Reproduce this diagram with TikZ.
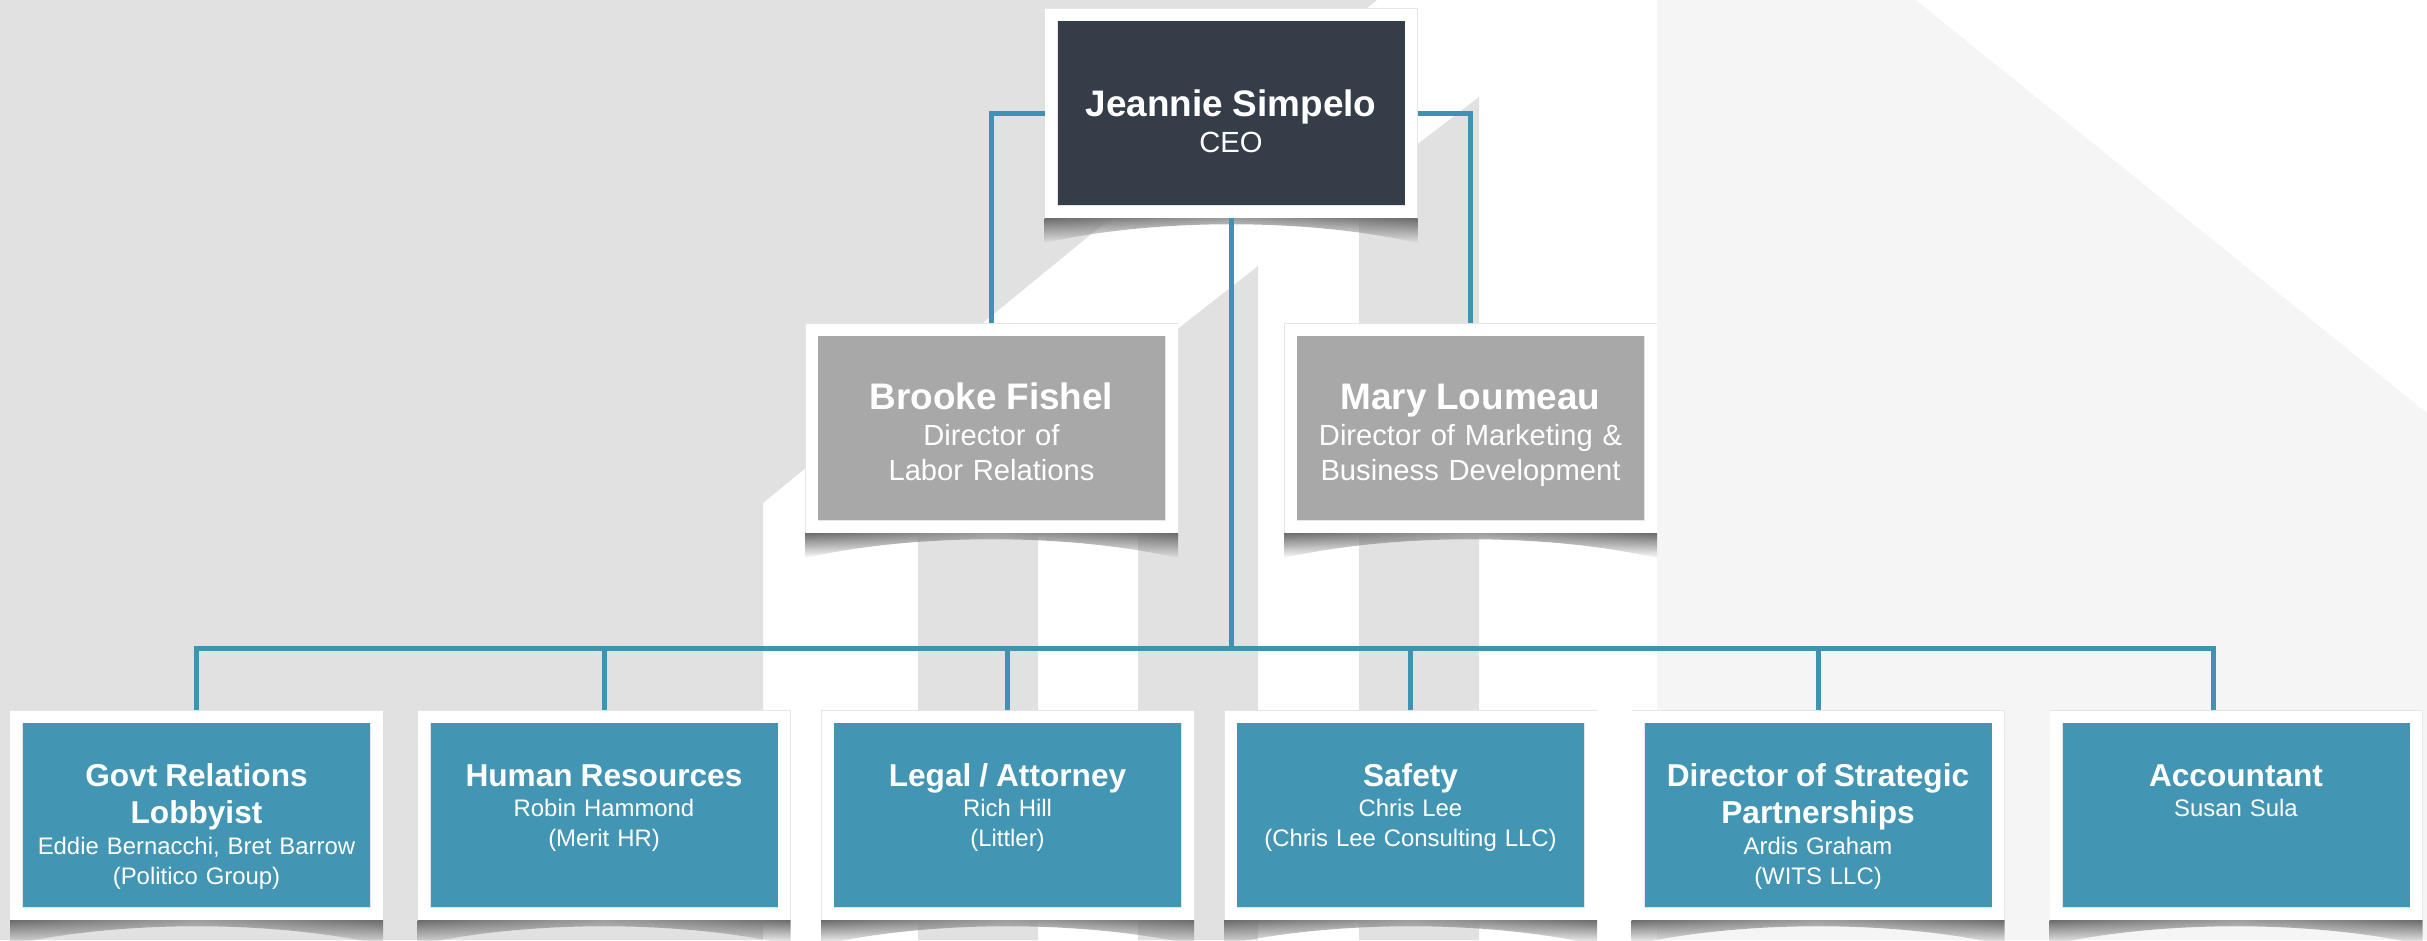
\documentclass[tikz,border=0pt]{standalone}
\usepackage{fontspec}
\setmainfont{Liberation Sans}
\usepackage{tikz}
\usetikzlibrary{positioning,fadings}

\definecolor{CeoSlate}{HTML}{343D48}
\definecolor{LeadGray}{HTML}{A8A8A8}
\definecolor{TeamTeal}{HTML}{4395B4}
\definecolor{LinkTeal}{HTML}{3F92B1}
\definecolor{BackdropGray}{HTML}{E1E1E1}
\definecolor{BackdropLight}{HTML}{F5F5F5}

% first (bold) line of a card
\newcommand{\nameline}[1]{{\bfseries\fontsize{10.5}{12}\selectfont #1\par}\vspace{0.8pt}}
\newcommand{\teamline}[1]{{\bfseries\fontsize{9}{10.8}\selectfont #1\par}\vspace{0.3pt}}

\begin{document}
\begin{tikzpicture}
  \tikzset{CardBase/.style = {shape = rectangle, draw = black!10, double = white, double distance = 0.12cm, line width = 0.005cm, inner sep = 0.065cm, outer sep = 0.065cm, text = white, text width = 3.47cm, align = center}};
  \tikzset{CeoCard/.style = {CardBase, fill = CeoSlate, text height = 0.95cm, text depth = 0.89cm, font = {\fontsize{8.3}{9.7}\selectfont}}};
  \tikzset{LeadCard/.style = {CardBase, fill = LeadGray, text height = 0.73cm, text depth = 1.11cm, font = {\fontsize{8.3}{9.7}\selectfont}}};
  \tikzset{TeamCard/.style = {CardBase, fill = TeamTeal, text height = 0.63cm, text depth = 1.21cm, font = {\fontsize{6.8}{8.5}\selectfont}}};
  \tikzset{LinkStyle/.style = {LinkTeal, line width = 0.05cm}};
  \tikzset{CardShadow/.style = {left color = black!58, right color = black!58, middle color = black!38, path fading = south}};

  \useasboundingbox (0,0) rectangle (24.27,-9.40);
  \clip (0,0) rectangle (24.27,-9.40);

  % backdrop: grey wedge, three rising bars, pale panel on the right
  \fill[BackdropLight] (16.57,0) rectangle (24.27,-9.40);
  \fill[white] (19.16,0) -- (24.27,0) -- (24.27,-4.13) -- cycle;
  \fill[BackdropGray] (0,0) -- (13.77,0) -- (7.63,-5.03) -- (7.63,-9.40) -- (0,-9.40) -- cycle;
  \foreach \bx/\ya/\yb in {9.18/5.31/4.38, 11.38/3.60/2.66, 13.59/1.89/0.97}
    \fill[BackdropGray] (\bx,-\ya) -- (\bx+1.2,-\yb) -- (\bx+1.2,-9.40) -- (\bx,-9.40) -- cycle;

  \node[CeoCard] (ceo) at (12.31,-1.13) {\nameline{Jeannie Simpelo}CEO};
  \node[LeadCard, below = 1.05cm of ceo, xshift = -2.395cm] (brooke) {\nameline{Brooke Fishel}Director of\\Labor Relations};
  \node[LeadCard, below = 1.05cm of ceo, xshift = 2.395cm] (mary) {\nameline{Mary Loumeau}Director of Marketing \&\\Business Development};

  \node[TeamCard, below = 4.92cm of ceo, xshift = -10.345cm] (govt) {\teamline{Govt Relations\\Lobbyist}Eddie Bernacchi, Bret Barrow\\(Politico Group)};
  \node[TeamCard, below = 4.92cm of ceo, xshift = -6.27cm] (hr) {\teamline{Human Resources}Robin Hammond\\(Merit HR)};
  \node[TeamCard, below = 4.92cm of ceo, xshift = -2.235cm] (legal) {\teamline{Legal / Attorney}Rich Hill\\(Littler)};
  \node[TeamCard, below = 4.92cm of ceo, xshift = 1.795cm] (safety) {\teamline{Safety}Chris Lee\\(Chris Lee Consulting LLC)};
  \node[TeamCard, below = 4.92cm of ceo, xshift = 5.87cm] (strategic) {\teamline{Director of Strategic\\Partnerships}Ardis Graham\\(WITS LLC)};
  \node[TeamCard, below = 4.92cm of ceo, xshift = 10.05cm] (acct) {\teamline{Accountant}Susan Sula};

  % curled shadows under the cards
  \foreach \card in {ceo, brooke, mary, govt, hr, legal, safety, strategic, acct}
    \shade[CardShadow] (\card.south west) -- (\card.south east) -- ++(0,-0.25)
      .. controls +(-1.1,0.25) and +(1.1,0.25) .. ([yshift=-0.25cm]\card.south west) -- cycle;

  \coordinate[below = 4.30cm of ceo.south] (hub);
  \draw[LinkStyle] (ceo.west) -| (brooke.north);
  \draw[LinkStyle] (ceo.east) -| (mary.north);
  \draw[LinkStyle] (ceo.south) -- (hub);
  \foreach \team in {govt, hr, legal, safety, strategic}
    \draw[LinkStyle] (hub) -| (\team.north);
  \draw[LinkStyle] (hub) -| ([xshift=-0.23cm]acct.north);
\end{tikzpicture}
\end{document}
